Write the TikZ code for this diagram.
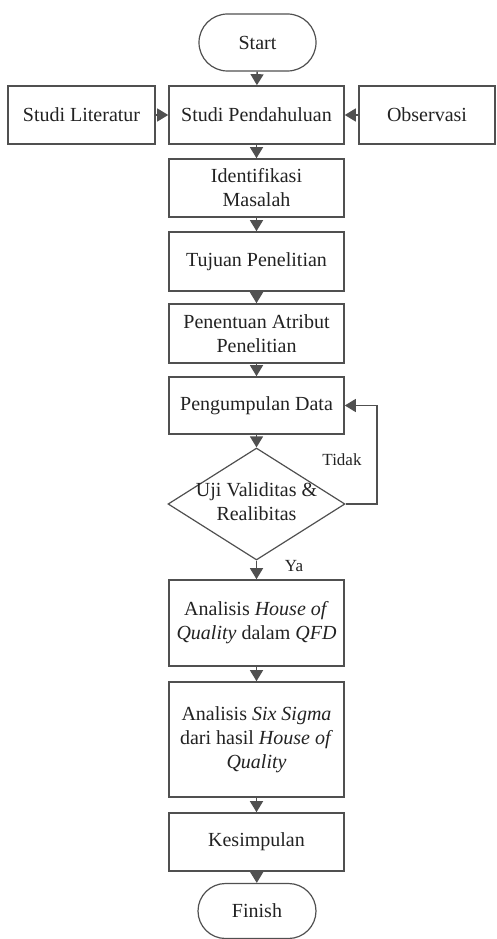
\documentclass[tikz,border=0pt]{standalone}
\usepackage{fontspec}
\setmainfont{Liberation Serif}
\usetikzlibrary{shapes.geometric,shapes.misc,arrows.meta}
\definecolor{linec}{HTML}{505050}
\definecolor{textc}{HTML}{222222}
\begin{document}
\begin{tikzpicture}[x=1pt,y=-1pt,
  every node/.style={text=textc,font=\fontsize{20}{24}\selectfont},
  box/.style={draw=linec,line width=1.6pt,rectangle,inner sep=0pt,minimum width=175pt,align=center},
  term/.style={draw=linec,line width=1.2pt,rounded rectangle,inner sep=0pt,minimum width=117pt,minimum height=57pt},
  decis/.style={draw=linec,line width=1.2pt,diamond,inner sep=0pt,minimum width=177pt,minimum height=112pt},
  flow/.style={draw=linec,line width=1.4pt,-{Triangle[width=13pt,length=11pt]}},
  lbl/.style={font=\fontsize{17}{20}\selectfont}]
\useasboundingbox (0,0) rectangle (496,939);
\node[term] (start) at (257.5,42.5) {Start};
\node[box,minimum width=147pt,minimum height=58pt] (lit) at (81.5,115) {Studi Literatur};
\node[box,minimum height=58pt] (pend) at (256.5,115) {Studi Pendahuluan};
\node[box,minimum width=136pt,minimum height=58pt] (obs) at (427,115) {Observasi};
\node[box,minimum height=58pt] (iden) at (256.5,188) {Identifikasi\\Masalah};
\node[box,minimum height=59pt] (tuj) at (256.5,261.5) {Tujuan Penelitian};
\node[box,minimum height=59pt] (pen) at (256.5,333.5) {Penentuan Atribut\\Penelitian};
\node[box,minimum height=57pt] (peng) at (256.5,405.5) {Pengumpulan Data};
\node[decis] (dia) at (256.5,504) {};
\node[align=center] (diatxt) at (256.5,502) {Uji Validitas \&\\Realibitas};
\node[box,minimum height=86pt] (hoq) at (256.5,623) {Analisis \textit{House of}\\\textit{Quality} dalam \textit{QFD}};
\node[box,minimum height=115pt] (six) at (256.5,739.5) {Analisis \textit{Six Sigma}\\dari hasil \textit{House of}\\\textit{Quality}};
\node[box,minimum height=58pt] (kes) at (256.5,842) {Kesimpulan};
\node[term,minimum width=118pt,minimum height=55pt] (fin) at (257,911) {Finish};
\coordinate (loop) at (377,504);
\draw[flow] (start) -- (pend);
\draw[flow] (lit) -- (pend);
\draw[flow] (obs) -- (pend);
\draw[flow] (pend) -- (iden);
\draw[flow] (iden) -- (tuj);
\draw[flow] (tuj) -- (pen);
\draw[flow] (pen) -- (peng);
\draw[flow] (peng) -- (dia);
\draw[flow] (dia) -- (hoq);
\draw[flow] (hoq) -- (six);
\draw[flow] (six) -- (kes);
\draw[flow] (kes) -- (fin);
\draw[flow] (dia.east) -- (loop) |- (peng.east);
\node[lbl] (tidak) at (342,460) {Tidak};
\node[lbl] (ya) at (294,566) {Ya};
\end{tikzpicture}
\end{document}
